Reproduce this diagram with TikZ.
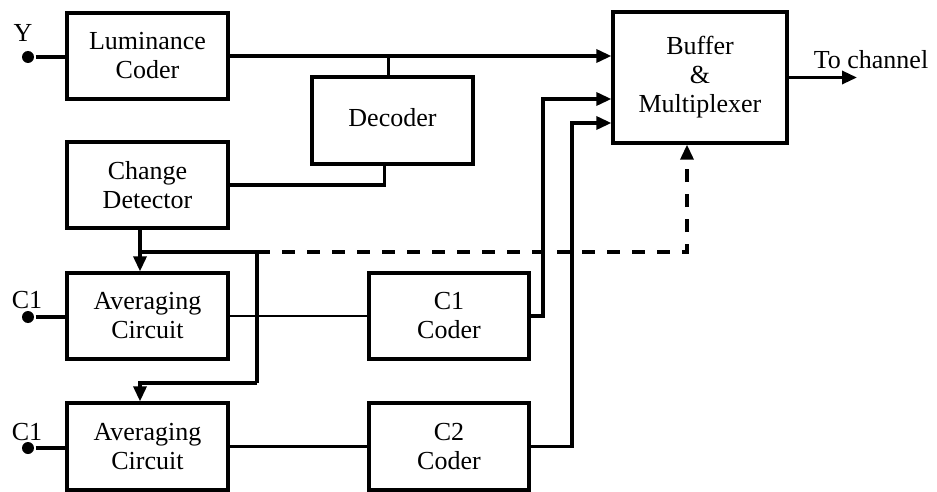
\documentclass[tikz,border=0pt]{standalone}
\usepackage{fontspec}
\setmainfont{Liberation Serif}
\usetikzlibrary{arrows.meta}
\begin{document}
\begin{tikzpicture}[x=1pt,y=-1pt,line width=3.3pt,
  block/.style={draw,align=center,inner sep=0pt,minimum width=161pt,minimum height=86pt,font=\fontsize{26}{29}\selectfont},
  lbl/.style={inner sep=0pt,font=\fontsize{26}{29}\selectfont},
  pin/.style={circle,fill,inner sep=0pt,minimum size=12pt},
  tip/.style={-{Triangle[length=15pt,width=13pt]}},
  thin wire/.style={line width=2.8pt}]
  \useasboundingbox (0,0) rectangle (937,492);
  % blocks
  \node[block] (lum) at (147.5,56) {Luminance\\Coder};
  \node[block,minimum height=87pt] (dec) at (392.5,120.5) {\raisebox{6pt}{Decoder}};
  \node[block] (cd) at (147.5,185) {Change\\Detector};
  \node[block] (avg1) at (147.5,316) {Averaging\\Circuit};
  \node[block,minimum height=87pt] (avg2) at (147.5,446.5) {Averaging\\Circuit};
  \node[block,minimum width=160pt] (c1c) at (449,316) {C1\\Coder};
  \node[block,minimum width=160pt,minimum height=87pt] (c2c) at (449,446.5) {C2\\Coder};
  \node[block,minimum width=174pt,minimum height=131pt] (buf) at (700,77.5) {Buffer\\\&\\Multiplexer};
  % inputs
  \node[pin] (y) at (28,57) {};
  \node[pin] (ca) at (28,317) {};
  \node[pin] (cb) at (28,448) {};
  \node[lbl] (ylbl) at (23,33) {Y};
  \node[lbl] (calbl) at (27,300) {C1};
  \node[lbl] (cblbl) at (27,432) {C1};
  \coordinate (out) at (857,77.5);
  \node[lbl] (outlbl) at (871,60) {To channel};
  \coordinate (bus) at (140,252);
  \coordinate (tap) at (257,252);
  \coordinate (turn) at (257,383);
  \coordinate (ctl) at (687,252);
  \coordinate (up1) at (543,99);
  \coordinate (up2) at (572,123);
  % wires
  \draw (y) -- (y -| lum.west);
  \draw (ca) -- (ca -| avg1.west);
  \draw (cb) -- (cb -| avg2.west);
  \draw[tip] (lum.east) -- (lum.east -| buf.west);
  \draw ([xshift=-4pt]dec.north) -- ([xshift=-4pt]dec.north |- lum.east);
  \draw (cd.east) -| ([xshift=-8pt]dec.south);
  \draw[tip] (cd.south -| bus) -- (avg1.north -| bus);
  \draw (bus) -- (tap) -- (turn);
  \draw[tip] (turn) -| (avg2.north -| bus);
  \draw[tip,dash pattern=on 13pt off 12pt] (tap) -- (ctl) -- (ctl |- buf.south);
  \draw[thin wire] (avg1.east) -- (c1c.west);
  \draw[thin wire] (avg2.east) -- (c2c.west);
  \draw[tip] (c1c.east) -| (up1) -- (up1 -| buf.west);
  \draw[tip] (c2c.east) -| (up2) -- (up2 -| buf.west);
  \draw[tip] (buf.east) -- (out);
\end{tikzpicture}
\end{document}
